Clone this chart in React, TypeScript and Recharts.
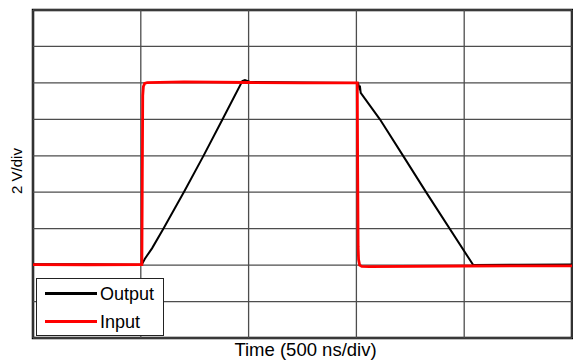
import {
  LineChart,
  Line,
  XAxis,
  YAxis,
  ReferenceLine,
  ReferenceArea,
  Legend,
} from 'recharts';

if (typeof document !== 'undefined') {
  document.body.style.margin = '0';
}

// time in ns, voltage in V (2 V/div, 500 ns/div)
const timeTicks = [0, 500, 1000, 1500, 2000, 2500];
const voltTicks = [-4, -2, 0, 2, 4, 6, 8, 10, 12, 14];
const seriesNames = ['Output', 'Input'];

const outputTime = [
  0, 250, 504, 519, 552, 604, 702, 790, 878, 971, 983, 1006, 1250, 1505, 1508,
  1513, 1516, 1520, 1609, 1722, 1826, 2042, 2250, 2500,
];
const outputVolt = [
  0.05, 0.05, 0.02, 0.35, 0.92, 1.98, 4.05, 5.98, 7.98, 10.1, 10.16, 10.05,
  10.02, 10.0, 9.98, 9.75, 9.85, 9.45, 8.0, 5.9, 3.95, 0.0, 0.02, 0.03,
];

const inputTime = [
  0, 250, 505, 507, 509, 512, 518, 530, 700, 1000, 1250, 1504, 1506, 1508,
  1510, 1515, 1525, 1560, 2000, 2500,
];
const inputVolt = [
  0.03, 0.02, 0.03, 5, 9.3, 9.8, 9.97, 10.02, 10.06, 10.02, 10.0, 10.0, 5, 1.0,
  0.3, 0.0, -0.07, -0.08, -0.05, -0.04,
];

const outputData = outputTime.map((t, i) => ({ t, v: outputVolt[i] }));
const inputData = inputTime.map((t, i) => ({ t, v: inputVolt[i] }));

const font = '"Liberation Sans", Arial, sans-serif';

interface LegendItem {
  value?: string;
  color?: string;
}

function BoxLegend({ payload }: { payload?: LegendItem[] }) {
  if (!payload) return null;
  const items = seriesNames
    .map((n) => payload.find((p) => p.value === n))
    .filter(Boolean) as LegendItem[];
  return (
    <div
      style={{
        width: 128,
        height: 58,
        boxSizing: 'border-box',
        border: '1.5px solid #222',
        background: '#fff',
        paddingTop: 1,
        fontFamily: font,
      }}
    >
      {items.map((item) => (
        <div
          key={item.value}
          style={{ display: 'flex', alignItems: 'center', height: 27, marginBottom: 1 }}
        >
          <div
            style={{
              width: 52,
              height: 2.5,
              background: item.color,
              marginLeft: 8,
              marginRight: 3,
            }}
          />
          <span style={{ fontSize: 18, color: '#000', lineHeight: '20px' }}>
            {item.value}
          </span>
        </div>
      ))}
    </div>
  );
}

export default function App() {
  return (
    <LineChart
      width={573}
      height={363}
      margin={{ top: 10, right: 1, bottom: 0, left: 0 }}
      style={{ fontFamily: font }}
    >
      <XAxis
        dataKey="t"
        type="number"
        domain={[0, 2500]}
        ticks={timeTicks}
        tick={false}
        tickLine={false}
        axisLine={false}
        height={25}
        allowDataOverflow
        label={{
          value: 'Time (500 ns/div)',
          position: 'insideBottom',
          offset: 7,
          fontSize: 18.5,
          fill: '#000',
          dx: 3,
        }}
      />
      <YAxis
        type="number"
        domain={[-4, 14]}
        ticks={voltTicks}
        tick={false}
        tickLine={false}
        axisLine={false}
        width={33}
        allowDataOverflow
        label={{
          value: '2 V/div',
          position: 'center',
          angle: -90,
          fontSize: 15,
          fill: '#000',
          dy: -3,
        }}
      />
      {timeTicks.map((t) => (
        <ReferenceLine key={`x${t}`} x={t} stroke="#4d4d4d" strokeWidth={1.3} />
      ))}
      {voltTicks.map((v) => (
        <ReferenceLine key={`y${v}`} y={v} stroke="#4d4d4d" strokeWidth={1.3} />
      ))}
      <ReferenceArea
        x1={0}
        x2={2500}
        y1={-4}
        y2={14}
        fill="none"
        stroke="#000"
        strokeWidth={2.5}
      />
      <Line
        data={outputData}
        dataKey="v"
        name="Output"
        type="linear"
        stroke="#000"
        strokeWidth={2}
        dot={false}
        isAnimationActive={false}
      />
      <Line
        data={inputData}
        dataKey="v"
        name="Input"
        type="linear"
        stroke="#ff0000"
        strokeWidth={2.8}
        dot={false}
        isAnimationActive={false}
      />
      <Legend
        layout="horizontal"
        align="center"
        verticalAlign="middle"
        content={<BoxLegend />}
        wrapperStyle={{ left: 36, top: 278, width: 128, height: 58 }}
      />
    </LineChart>
  );
}
